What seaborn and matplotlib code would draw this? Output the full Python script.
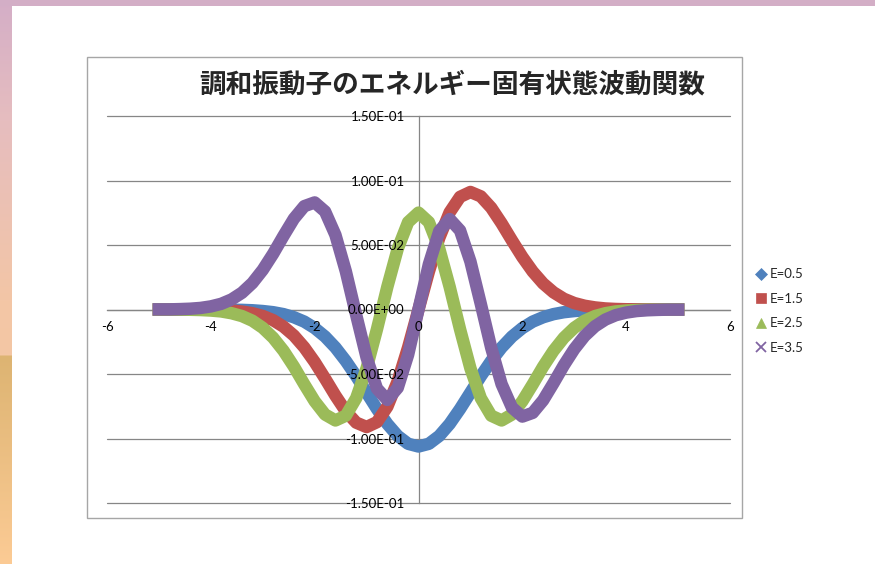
import numpy as np
import pandas as pd
import matplotlib
matplotlib.use("Agg")
import matplotlib.pyplot as plt
import seaborn as sns
from matplotlib.lines import Line2D
from matplotlib.patches import Rectangle

# data (x from -5 to 5, step 0.2)
x_vals = [-5.0, -4.8, -4.6, -4.4, -4.2, -4.0, -3.8, -3.6, -3.4, -3.2,
          -3.0, -2.8, -2.6, -2.4, -2.2, -2.0, -1.8, -1.6, -1.4, -1.2,
          -1.0, -0.8, -0.6, -0.4, -0.2, 0.0, 0.2, 0.4, 0.6, 0.8,
          1.0, 1.2, 1.4, 1.6, 1.8, 2.0, 2.2, 2.4, 2.6, 2.8,
          3.0, 3.2, 3.4, 3.6, 3.8, 4.0, 4.2, 4.4, 4.6, 4.8, 5.0]

e05 = [0.0, 0.0, 0.0, 0.0, 0.0, 0.0, -0.0001, -0.0002, -0.0003, -0.0006,
       -0.0012, -0.0021, -0.0036, -0.0060, -0.0094, -0.0144, -0.0210, -0.0295, -0.0399, -0.0517,
       -0.0644, -0.0771, -0.0887, -0.0980, -0.1041, -0.1062, -0.1041, -0.0980, -0.0887, -0.0771,
       -0.0644, -0.0517, -0.0399, -0.0295, -0.0210, -0.0144, -0.0094, -0.0060, -0.0036, -0.0021,
       -0.0012, -0.0006, -0.0003, -0.0002, -0.0001, 0.0, 0.0, 0.0, 0.0, 0.0, 0.0]

e15 = [0.0, 0.0, 0.0, 0.0, -0.0001, -0.0002, -0.0004, -0.0008, -0.0016, -0.0029,
       -0.0050, -0.0083, -0.0133, -0.0202, -0.0294, -0.0407, -0.0535, -0.0668, -0.0789, -0.0877,
       -0.0911, -0.0873, -0.0753, -0.0555, -0.0294, 0.0, 0.0294, 0.0555, 0.0753, 0.0873,
       0.0911, 0.0877, 0.0789, 0.0668, 0.0535, 0.0407, 0.0294, 0.0202, 0.0133, 0.0083,
       0.0050, 0.0029, 0.0016, 0.0008, 0.0004, 0.0002, 0.0001, 0.0, 0.0, 0.0, 0.0]

e25 = [0.0, 0.0, -0.0001, -0.0002, -0.0004, -0.0008, -0.0015, -0.0029, -0.0051, -0.0087,
       -0.0142, -0.0219, -0.0320, -0.0443, -0.0580, -0.0711, -0.0814, -0.0860, -0.0823, -0.0687,
       -0.0456, -0.0153, 0.0176, 0.0471, 0.0677, 0.0751, 0.0677, 0.0471, 0.0176, -0.0153,
       -0.0456, -0.0687, -0.0823, -0.0860, -0.0814, -0.0711, -0.0580, -0.0443, -0.0320, -0.0219,
       -0.0142, -0.0087, -0.0051, -0.0029, -0.0015, -0.0008, -0.0004, -0.0002, -0.0001, 0.0, 0.0]

e35 = [0.0001, 0.0001, 0.0003, 0.0006, 0.0012, 0.0024, 0.0044, 0.0078, 0.0130, 0.0205,
       0.0307, 0.0432, 0.0571, 0.0704, 0.0801, 0.0830, 0.0760, 0.0578, 0.0296, -0.0043,
       -0.0372, -0.0613, -0.0701, -0.0607, -0.0351, 0.0, 0.0351, 0.0607, 0.0701, 0.0613,
       0.0372, 0.0043, -0.0296, -0.0578, -0.0760, -0.0830, -0.0801, -0.0704, -0.0571, -0.0432,
       -0.0307, -0.0205, -0.0130, -0.0078, -0.0044, -0.0024, -0.0012, -0.0006, -0.0003, -0.0001, -0.0001]

labels = ["E=0.5", "E=1.5", "E=2.5", "E=3.5"]
colors = ["#4F81BD", "#C0504D", "#9BBB59", "#8064A2"]
markers = ["D", "s", "^", "x"]

df = pd.concat([pd.DataFrame({"x": x_vals, "psi": v, "E": lab})
                for v, lab in zip([e05, e15, e25, e35], labels)])

W, H = 875, 564
sns.set_style("white")
plt.rcParams["font.family"] = ["Lato", "DejaVu Sans"]

fig = plt.figure(figsize=(W / 100, H / 100), dpi=100)
fig.patch.set_facecolor("white")

# slide background strips
fig.patches.append(Rectangle((0, 1 - 6 / H), 1, 6 / H, transform=fig.transFigure,
                             facecolor="#D3AEC6", edgecolor="none", zorder=-5))
stops = [(0, "#D4AEC7"), (120, "#E6BDBF"), (300, "#F3C6A6"), (354, "#F4C7A4"),
         (356, "#DDB472"), (564, "#FCCB95")]
rows = np.arange(H)
pos = [s[0] for s in stops]
rgb = np.array([matplotlib.colors.to_rgb(s[1]) for s in stops])
grad = np.stack([np.interp(rows, pos, rgb[:, k]) for k in range(3)], axis=1)
strip = fig.add_axes([0, 0, 12 / W, 1 - 6 / H])
strip.imshow(grad[6:, None, :], aspect="auto")
strip.axis("off")

# chart area border
fig.patches.append(Rectangle((87 / W, 1 - 518 / H), 655 / W, 461 / H, transform=fig.transFigure,
                             facecolor="white", edgecolor="#A6A6A6", linewidth=1.0, zorder=-1))

ax = fig.add_axes([107 / W, 1 - 503 / H, 623 / W, 387 / H])
ax.set_facecolor("none")

sns.lineplot(data=df, x="x", y="psi", hue="E", palette=colors, sort=False,
             estimator=None, linewidth=9, legend=False, ax=ax,
             solid_capstyle="projecting", solid_joinstyle="round")

ax.set_xlim(-6, 6)
ax.set_ylim(-0.15, 0.15)
ax.set_xticks([-6, -4, -2, 0, 2, 4, 6])
ax.set_yticks([-0.15, -0.10, -0.05, 0.0, 0.05, 0.10, 0.15])
ax.yaxis.set_major_formatter(matplotlib.ticker.FuncFormatter(lambda v, p: f"{v:.2E}"))
ax.xaxis.set_major_formatter(matplotlib.ticker.FuncFormatter(lambda v, p: f"{v:g}"))

for yv in ax.get_yticks():
    ax.axhline(yv, color="#868686", linewidth=0.9, zorder=0.5, clip_on=False)

for s in ["top", "right"]:
    ax.spines[s].set_visible(False)
ax.spines["left"].set_position(("data", 0))
ax.spines["bottom"].set_position(("data", 0))
for s in ["left", "bottom"]:
    ax.spines[s].set_color("#868686")
    ax.spines[s].set_linewidth(0.9)
    ax.spines[s].set_zorder(0.6)
ax.set_axisbelow(False)
ax.tick_params(axis="both", length=0, labelsize=9.5, colors="black")
ax.tick_params(axis="y", pad=10)
ax.tick_params(axis="x", pad=8)
ax.set_xlabel("")
ax.set_ylabel("")

fig.text(452 / W, 1 - 85 / H, "調和振動子のエネルギー固有状態波動関数",
         family=["Noto Sans CJK JP", "DejaVu Sans"], weight="bold",
         fontsize=19.2, ha="center", va="center")

handles = [Line2D([], [], linestyle="none", marker=m, color=c, markersize=6.5,
                  markeredgewidth=1.3 if m == "x" else 0.5)
           for m, c in zip(markers, colors)]
fig.legend(handles, labels, loc="upper left", bbox_to_anchor=(750 / W, 1 - 263 / H),
           frameon=False, fontsize=9.5, handlelength=0.8, handletextpad=0.3,
           labelspacing=0.95, borderaxespad=0)

fig.savefig("out.png", dpi=100)
